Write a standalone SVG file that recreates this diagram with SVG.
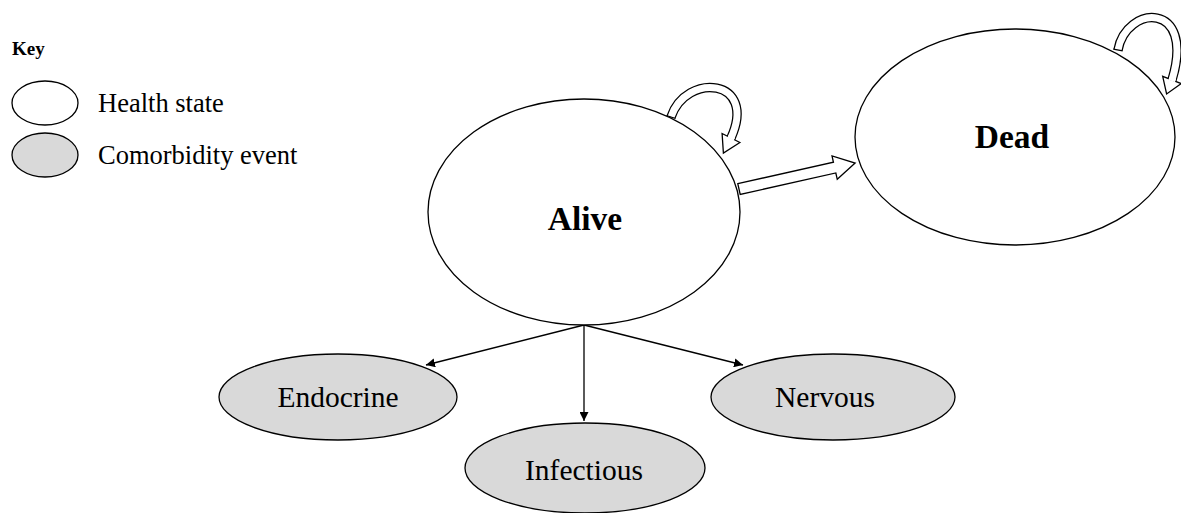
<svg xmlns="http://www.w3.org/2000/svg" width="1181" height="513" viewBox="0 0 1181 513">
<defs>
<style>
.state{fill:#fff;stroke:#000;stroke-width:1.3}
.event{fill:#d9d9d9;stroke:#000;stroke-width:1.3}
.t{font-family:"Liberation Serif","Times New Roman",serif;fill:#000}
.lbl{font-size:29.5px;text-anchor:middle}
.big{font-size:33.5px;font-weight:bold;text-anchor:middle}
.key{font-size:26.5px}
.edge{stroke:#000;stroke-width:1.3;fill:none;marker-end:url(#ah)}
.blk{fill:#fff;stroke:#000;stroke-width:1.3;stroke-linejoin:miter}
.loopO{fill:none;stroke:#000;stroke-width:9.5}
.loopI{fill:none;stroke:#fff;stroke-width:7}
</style>
<marker id="ah" viewBox="0 0 10 10" refX="10" refY="5" markerWidth="9" markerHeight="9" markerUnits="userSpaceOnUse" orient="auto">
<path d="M0,0 L10,5 L0,10 z" fill="#000"/>
</marker>
</defs>
<rect width="1181" height="513" fill="#fff"/>

<g id="legend">
<text class="t" x="12" y="55" font-size="19" font-weight="bold">Key</text>
<ellipse class="state" cx="45" cy="103" rx="33" ry="22"/>
<text class="t key" x="98" y="112">Health state</text>
<ellipse class="event" cx="45" cy="155" rx="33" ry="22"/>
<text class="t key" x="98" y="164">Comorbidity event</text>
</g>

<g id="connectors">
<line class="edge" x1="584" y1="325" x2="426" y2="365"/>
<line class="edge" x1="584" y1="325" x2="584" y2="421"/>
<line class="edge" x1="584" y1="325" x2="743" y2="365"/>
<polygon class="blk" transform="translate(739,189) rotate(-12.6)" points="0,-5.5 98,-5.5 98,-12 119,0 98,12 98,5.5 0,5.5"/>
<g id="loop-alive">
<path class="loopO" d="M671,117 C686,72 758,78 731,138"/>
<path class="loopI" d="M671,117 C686,72 758,78 731,138"/>
<line x1="666.5" y1="115.5" x2="675.5" y2="118.5" stroke="#000" stroke-width="1.3"/>
<polygon class="blk" points="739.9,142.5 723.4,153.1 722.1,133.5"/>
<line x1="731.9" y1="136.2" x2="730.5" y2="139" stroke="#fff" stroke-width="7"/>
</g>
<g id="loop-dead">
<path class="loopO" d="M1118,50 C1126,5 1196,0 1172,80"/>
<path class="loopI" d="M1118,50 C1126,5 1196,0 1172,80"/>
<line x1="1113.3" y1="49.2" x2="1122.7" y2="50.8" stroke="#000" stroke-width="1.3"/>
<polygon class="blk" points="1181.3,83.6 1166.6,94 1162.7,76.4"/>
<line x1="1172.8" y1="78" x2="1171.6" y2="81" stroke="#fff" stroke-width="7"/>
</g>
</g>

<g id="alive">
<ellipse class="state" cx="584" cy="212" rx="156" ry="113"/>
<text class="t big" x="585" y="230">Alive</text>
</g>
<g id="dead">
<ellipse class="state" cx="1015" cy="137" rx="160" ry="108"/>
<text class="t big" x="1012" y="148">Dead</text>
</g>
<g id="endocrine">
<ellipse class="event" cx="338" cy="397" rx="119" ry="43"/>
<text class="t lbl" x="338" y="407">Endocrine</text>
</g>
<g id="infectious">
<ellipse class="event" cx="585" cy="468" rx="120" ry="45"/>
<text class="t lbl" x="584" y="480">Infectious</text>
</g>
<g id="nervous">
<ellipse class="event" cx="833" cy="397" rx="122" ry="43"/>
<text class="t lbl" x="825" y="407">Nervous</text>
</g>
</svg>
